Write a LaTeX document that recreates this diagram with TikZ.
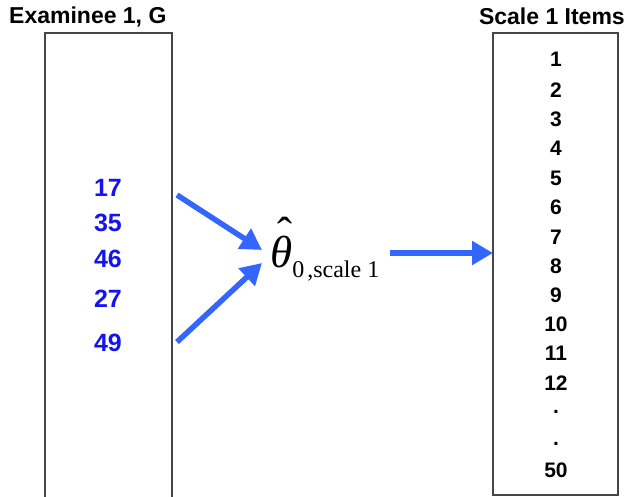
\documentclass[tikz,border=0pt]{standalone}
\usepackage{fontspec}
\setmainfont{Liberation Sans}
\newfontfamily\serifface{Liberation Serif}
\usetikzlibrary{arrows.meta}
\definecolor{arrowblue}{RGB}{51,102,255}
\definecolor{numblue}{RGB}{20,20,240}
\definecolor{boxgray}{RGB}{70,70,70}
\tikzset{
  panel/.style={draw=boxgray, line width=1.5pt, inner sep=0pt},
  heading/.style={font=\fontsize{23}{23}\selectfont\bfseries, inner sep=0pt},
  itemnum/.style={font=\fontsize{21}{21}\selectfont\bfseries, inner sep=0pt},
  examnum/.style={font=\fontsize{25}{25}\selectfont\bfseries, text=numblue, inner sep=0pt},
  flow/.style={draw=arrowblue, line width=5.5pt,
    -{Triangle[length=21pt,width=23pt]}},
}
\begin{document}
\begin{tikzpicture}[x=1pt,y=-1pt]
  \useasboundingbox (0,0) rectangle (625,497);

  % headings
  \node[heading, anchor=west] (h1) at (9,17) {Examinee 1, G};
  \node[heading, anchor=east] (h2) at (625,16) {Scale 1 Items};

  % the two panels
  \draw[panel] (45,33) rectangle (172,498);
  \draw[panel] (493,33) rectangle (618,495);
  \coordinate (itemsW) at (493,253);

  % administered items of the examinee
  \node[examnum] (e1) at (108,188) {17};
  \node[examnum] (e2) at (108,223) {35};
  \node[examnum] (e3) at (108,259) {46};
  \node[examnum] (e4) at (108,299) {27};
  \node[examnum] (e5) at (108,343) {49};

  % items of scale 1
  \foreach \t/\y [count=\i] in {1/59,2/90,3/119,4/148,5/178,6/207,7/237,
      8/266,9/295,10/324,11/353,12/383,./412,./444,50/470}
    \node[itemnum] (it\i) at (556,\y) {\t};

  % ability estimate: theta with a hat, then its subscript
  \node[inner sep=0pt, anchor=base west] (theta) at (270,268)
    {\serifface{\fontsize{45}{45}\selectfont{\itshape θ}%
       \llap{\raisebox{19pt}{ˆ}\hspace{0pt}}}%
     \raisebox{-10pt}{\fontsize{24}{24}\selectfont 0\hspace{3pt},scale 1}};

  % flows
  \coordinate (a1) at (177,195);
  \coordinate (a2) at (177,342);
  \coordinate (t1) at (262,250);
  \coordinate (t2) at (262,263);
  \coordinate (t3) at (390,253);
  \draw[flow] (a1) -- (t1);
  \draw[flow] (a2) -- (t2);
  \draw[flow] (t3) -- (itemsW);
\end{tikzpicture}
\end{document}
